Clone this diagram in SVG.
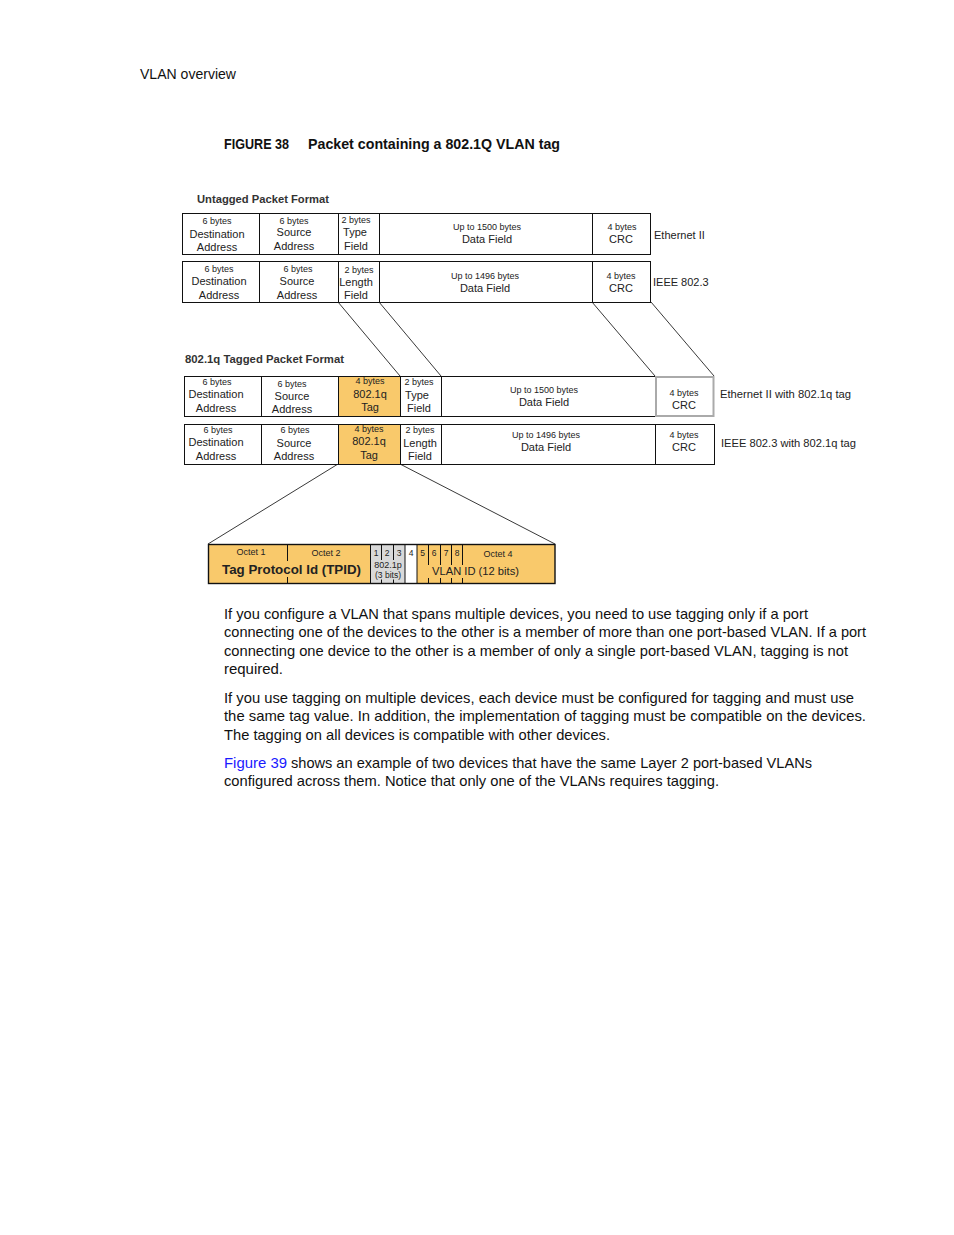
<svg xmlns="http://www.w3.org/2000/svg" width="954" height="1235" viewBox="0 0 954 1235">
<style>
.bg{fill:#fff}
.cell{fill:#fff;stroke:#111;stroke-width:1}
.tag{fill:#F9C96B;stroke:#111;stroke-width:1}
.conn{stroke:#222;stroke-width:0.9;fill:none}
.d{font-family:'Liberation Sans',Arial,sans-serif;fill:#222;text-anchor:middle}
.s{font-size:9px}
.m{font-size:11px}
.lbl{font-family:'Liberation Sans',Arial,sans-serif;font-size:11px;fill:#222}
.h{font-family:'Liberation Sans',Arial,sans-serif;font-size:11px;font-weight:bold;fill:#333}
.body{font-family:'Liberation Sans Narrow','Liberation Sans',Arial,sans-serif;font-size:14.5px;fill:#111}
.link{fill:#1a1aff}
</style>
<rect class="bg" x="0" y="0" width="954" height="1235"/>

<text class="body" x="140" y="79" textLength="96" lengthAdjust="spacingAndGlyphs">VLAN overview</text>
<text x="224" y="149" font-family="'Liberation Sans Narrow','Liberation Sans',sans-serif" font-size="14.5" font-weight="bold" fill="#111" textLength="65" lengthAdjust="spacingAndGlyphs">FIGURE 38</text>
<text x="308" y="149" font-family="'Liberation Sans',sans-serif" font-size="14" font-weight="bold" fill="#111" textLength="252" lengthAdjust="spacingAndGlyphs">Packet containing a 802.1Q VLAN tag</text>

<text class="h" x="197" y="203" textLength="132" lengthAdjust="spacingAndGlyphs">Untagged Packet Format</text>
<text class="h" x="185" y="363" textLength="159" lengthAdjust="spacingAndGlyphs">802.1q Tagged Packet Format</text>

<g id="connectors">
<line class="conn" x1="338" y1="302" x2="400" y2="376"/>
<line class="conn" x1="379" y1="302" x2="441" y2="376"/>
<line class="conn" x1="592" y1="302" x2="655" y2="376"/>
<line class="conn" x1="651" y1="302" x2="714" y2="376"/>
<line class="conn" x1="338" y1="464" x2="208" y2="544"/>
<line class="conn" x1="400" y1="464" x2="555" y2="544"/>
</g>

<g id="row-ethernet2">
<rect class="cell" x="182.5" y="213.5" width="77" height="41"/>
<rect class="cell" x="259.5" y="213.5" width="79" height="41"/>
<rect class="cell" x="338.5" y="213.5" width="41" height="41"/>
<rect class="cell" x="379.5" y="213.5" width="213" height="41"/>
<rect class="cell" x="592.5" y="213.5" width="58" height="41"/>
<text class="d s" x="217" y="224">6 bytes</text>
<text class="d m" x="217" y="238">Destination</text>
<text class="d m" x="217" y="251">Address</text>
<text class="d s" x="294" y="224">6 bytes</text>
<text class="d m" x="294" y="236">Source</text>
<text class="d m" x="294" y="250">Address</text>
<text class="d s" x="356" y="223">2 bytes</text>
<text class="d m" x="355" y="236">Type</text>
<text class="d m" x="356" y="250">Field</text>
<text class="d s" x="487" y="230">Up to 1500 bytes</text>
<text class="d m" x="487" y="243">Data Field</text>
<text class="d s" x="622" y="230">4 bytes</text>
<text class="d m" x="621" y="243">CRC</text>
<text class="lbl" x="654" y="239">Ethernet II</text>
</g>

<g id="row-ieee8023">
<rect class="cell" x="182.5" y="261.5" width="77" height="41"/>
<rect class="cell" x="259.5" y="261.5" width="79" height="41"/>
<rect class="cell" x="338.5" y="261.5" width="41" height="41"/>
<rect class="cell" x="379.5" y="261.5" width="213" height="41"/>
<rect class="cell" x="592.5" y="261.5" width="58" height="41"/>
<text class="d s" x="219" y="272">6 bytes</text>
<text class="d m" x="219" y="285">Destination</text>
<text class="d m" x="219" y="299">Address</text>
<text class="d s" x="298" y="272">6 bytes</text>
<text class="d m" x="297" y="285">Source</text>
<text class="d m" x="297" y="299">Address</text>
<text class="d s" x="359" y="273">2 bytes</text>
<text class="d m" x="356" y="286">Length</text>
<text class="d m" x="356" y="299">Field</text>
<text class="d s" x="485" y="279">Up to 1496 bytes</text>
<text class="d m" x="485" y="292">Data Field</text>
<text class="d s" x="621" y="279">4 bytes</text>
<text class="d m" x="621" y="292">CRC</text>
<text class="lbl" x="653" y="286">IEEE 802.3</text>
</g>

<g id="row-ethernet2-tagged">
<rect class="cell" x="184.5" y="376.5" width="77" height="40"/>
<rect class="cell" x="261.5" y="376.5" width="77" height="40"/>
<rect class="tag" x="338.5" y="376.5" width="62" height="40"/>
<rect class="cell" x="400.5" y="376.5" width="41" height="40"/>
<rect class="cell" x="441.5" y="376.5" width="214" height="40"/>
<rect x="656" y="377" width="57.5" height="39" fill="#fff" stroke="#aaa" stroke-width="2"/>
<text class="d s" x="217" y="385">6 bytes</text>
<text class="d m" x="216" y="398">Destination</text>
<text class="d m" x="216" y="412">Address</text>
<text class="d s" x="292" y="387">6 bytes</text>
<text class="d m" x="292" y="400">Source</text>
<text class="d m" x="292" y="413">Address</text>
<text class="d s" x="370" y="384">4 bytes</text>
<text class="d m" x="370" y="398">802.1q</text>
<text class="d m" x="370" y="411">Tag</text>
<text class="d s" x="419" y="385">2 bytes</text>
<text class="d m" x="417" y="399">Type</text>
<text class="d m" x="419" y="412">Field</text>
<text class="d s" x="544" y="393">Up to 1500 bytes</text>
<text class="d m" x="544" y="406">Data Field</text>
<text class="d s" x="684" y="396">4 bytes</text>
<text class="d m" x="684" y="409">CRC</text>
<text class="lbl" x="720" y="398" textLength="131" lengthAdjust="spacingAndGlyphs">Ethernet II with 802.1q tag</text>
</g>

<g id="row-ieee8023-tagged">
<rect class="cell" x="184.5" y="424.5" width="77" height="40"/>
<rect class="cell" x="261.5" y="424.5" width="77" height="40"/>
<rect class="tag" x="338.5" y="424.5" width="62" height="40"/>
<rect class="cell" x="400.5" y="424.5" width="41" height="40"/>
<rect class="cell" x="441.5" y="424.5" width="214" height="40"/>
<rect class="cell" x="655.5" y="424.5" width="59" height="40"/>
<text class="d s" x="218" y="433">6 bytes</text>
<text class="d m" x="216" y="446">Destination</text>
<text class="d m" x="216" y="460">Address</text>
<text class="d s" x="295" y="433">6 bytes</text>
<text class="d m" x="294" y="447">Source</text>
<text class="d m" x="294" y="460">Address</text>
<text class="d s" x="369" y="432">4 bytes</text>
<text class="d m" x="369" y="445">802.1q</text>
<text class="d m" x="369" y="459">Tag</text>
<text class="d s" x="420" y="433">2 bytes</text>
<text class="d m" x="420" y="447">Length</text>
<text class="d m" x="420" y="460">Field</text>
<text class="d s" x="546" y="438">Up to 1496 bytes</text>
<text class="d m" x="546" y="451">Data Field</text>
<text class="d s" x="684" y="438">4 bytes</text>
<text class="d m" x="684" y="451">CRC</text>
<text class="lbl" x="721" y="447" textLength="135" lengthAdjust="spacingAndGlyphs">IEEE 802.3 with 802.1q tag</text>
</g>

<g id="tag-detail">
<rect x="208.5" y="544.5" width="346.5" height="39" fill="#F9C96B"/>
<rect x="370.5" y="544.5" width="34.5" height="39" fill="#D9D9D9"/>
<rect x="405" y="544.5" width="12" height="39" fill="#fff"/>
<g stroke="#111" stroke-width="1">
<line x1="287.5" y1="544.5" x2="287.5" y2="561"/>
<line x1="287.5" y1="577" x2="287.5" y2="583.5"/>
<line x1="370.5" y1="544.5" x2="370.5" y2="583.5"/>
<line x1="381.5" y1="544.5" x2="381.5" y2="560"/>
<line x1="381.5" y1="579.5" x2="381.5" y2="583.5"/>
<line x1="393.5" y1="544.5" x2="393.5" y2="560"/>
<line x1="393.5" y1="579.5" x2="393.5" y2="583.5"/>
<line x1="405" y1="544.5" x2="405" y2="583.5"/>
<line x1="417" y1="544.5" x2="417" y2="583.5"/>
<line x1="428.5" y1="544.5" x2="428.5" y2="565"/>
<line x1="428.5" y1="578" x2="428.5" y2="583.5"/>
<line x1="440.5" y1="544.5" x2="440.5" y2="565"/>
<line x1="440.5" y1="578" x2="440.5" y2="583.5"/>
<line x1="451.5" y1="544.5" x2="451.5" y2="565"/>
<line x1="451.5" y1="578" x2="451.5" y2="583.5"/>
<line x1="462.5" y1="544.5" x2="462.5" y2="565"/>
<line x1="462.5" y1="578" x2="462.5" y2="583.5"/>
</g>
<rect x="208.5" y="544.5" width="346.5" height="39" fill="none" stroke="#111" stroke-width="1.4"/>
<text class="d s" x="251" y="555">Octet 1</text>
<text class="d s" x="326" y="556">Octet 2</text>
<text class="d" x="291.5" y="574" font-size="12.2" font-weight="bold" fill="#333" textLength="139" lengthAdjust="spacingAndGlyphs">Tag Protocol Id (TPID)</text>
<text class="d" x="376" y="556" font-size="8.5">1</text>
<text class="d" x="387" y="556" font-size="8.5">2</text>
<text class="d" x="399" y="556" font-size="8.5">3</text>
<text class="d" x="388" y="568" font-size="9">802.1p</text>
<text class="d" x="388" y="578" font-size="8.5">(3 bits)</text>
<text class="d" x="411" y="556" font-size="8.5">4</text>
<text class="d" x="422.5" y="556" font-size="8.5">5</text>
<text class="d" x="434" y="556" font-size="8.5">6</text>
<text class="d" x="446" y="556" font-size="8.5">7</text>
<text class="d" x="457" y="556" font-size="8.5">8</text>
<text class="d s" x="498" y="557">Octet 4</text>
<text class="d" x="475.5" y="575" font-size="10.8" textLength="87" lengthAdjust="spacingAndGlyphs">VLAN ID (12 bits)</text>
</g>

<g id="body-text">
<text class="body" x="224" y="619" textLength="584" lengthAdjust="spacingAndGlyphs">If you configure a VLAN that spans multiple devices, you need to use tagging only if a port</text>
<text class="body" x="224" y="637" textLength="642" lengthAdjust="spacingAndGlyphs">connecting one of the devices to the other is a member of more than one port-based VLAN. If a port</text>
<text class="body" x="224" y="656" textLength="624" lengthAdjust="spacingAndGlyphs">connecting one device to the other is a member of only a single port-based VLAN, tagging is not</text>
<text class="body" x="224" y="674" textLength="59" lengthAdjust="spacingAndGlyphs">required.</text>
<text class="body" x="224" y="703" textLength="630" lengthAdjust="spacingAndGlyphs">If you use tagging on multiple devices, each device must be configured for tagging and must use</text>
<text class="body" x="224" y="721" textLength="642" lengthAdjust="spacingAndGlyphs">the same tag value. In addition, the implementation of tagging must be compatible on the devices.</text>
<text class="body" x="224" y="740" textLength="386" lengthAdjust="spacingAndGlyphs">The tagging on all devices is compatible with other devices.</text>
<text class="body link" x="224" y="768" textLength="63" lengthAdjust="spacingAndGlyphs">Figure 39</text>
<text class="body" x="291" y="768" textLength="521" lengthAdjust="spacingAndGlyphs">shows an example of two devices that have the same Layer 2 port-based VLANs</text>
<text class="body" x="224" y="786" textLength="495" lengthAdjust="spacingAndGlyphs">configured across them. Notice that only one of the VLANs requires tagging.</text>
</g>
</svg>
